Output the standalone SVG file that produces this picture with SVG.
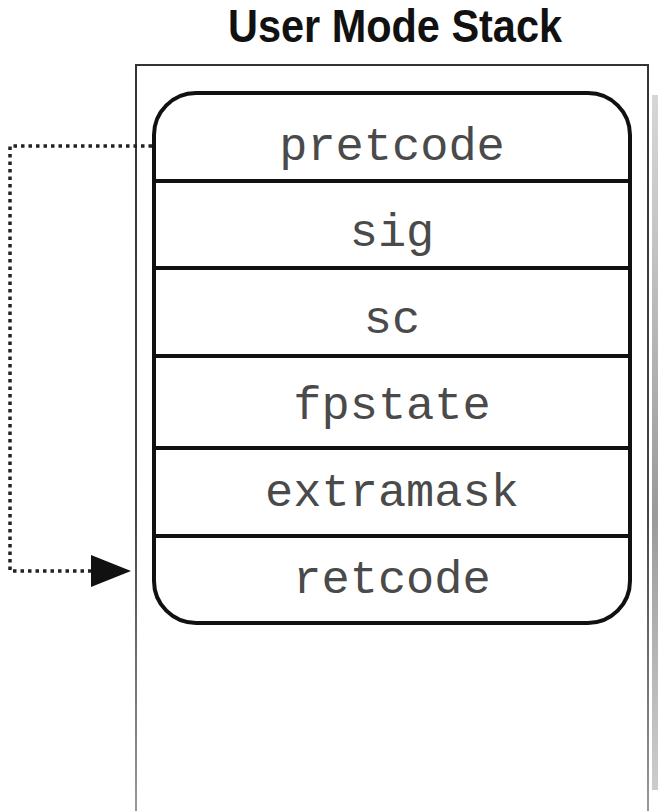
<svg xmlns="http://www.w3.org/2000/svg" width="672" height="811" viewBox="0 0 672 811">
<defs>
<style>
.lbl{font-family:"Liberation Mono","Courier New",monospace;font-size:47px;fill:#4a4a4a;text-anchor:middle}
.div{stroke:#111;stroke-width:4;fill:none}
.dot{stroke:#222;stroke-width:3.5;fill:none;stroke-dasharray:3.5 4}
</style>
<linearGradient id="shadow" x1="0" y1="0" x2="0" y2="1">
<stop offset="0" stop-color="#bbb" stop-opacity="0.6"/>
<stop offset="0.6" stop-color="#999"/>
<stop offset="1" stop-color="#aaa" stop-opacity="0.6"/>
</linearGradient>
<linearGradient id="leftfade" x1="0" y1="0" x2="0" y2="1">
<stop offset="0" stop-color="#333"/>
<stop offset="0.6" stop-color="#444"/>
<stop offset="1" stop-color="#999"/>
</linearGradient>
</defs>
<rect width="672" height="811" fill="#fff"/>
<g id="title">
<text x="395" y="42" font-family="Liberation Sans, Arial, sans-serif" font-weight="bold" font-size="46" fill="#111" text-anchor="middle" textLength="334" lengthAdjust="spacingAndGlyphs">User Mode Stack</text>
</g>
<g id="stack-frame">
<rect x="652" y="95" width="6" height="695" fill="url(#shadow)"/>
<path d="M136 811 V65 H648 V811" fill="none" stroke="url(#leftfade)" stroke-width="2"/>
</g>
<g id="frame">
<rect x="154" y="93" width="476" height="530" rx="42" ry="42" fill="#fff" stroke="#111" stroke-width="4"/>
<line class="div" x1="154" y1="181" x2="630" y2="181"/>
<line class="div" x1="154" y1="268" x2="630" y2="268"/>
<line class="div" x1="154" y1="356" x2="630" y2="356"/>
<line class="div" x1="154" y1="448" x2="630" y2="448"/>
<line class="div" x1="154" y1="536" x2="630" y2="536"/>
</g>
<g id="pretcode"><text class="lbl" x="392" y="160">pretcode</text></g>
<g id="sig"><text class="lbl" x="392" y="246">sig</text></g>
<g id="sc"><text class="lbl" x="392" y="333">sc</text></g>
<g id="fpstate"><text class="lbl" x="392" y="419">fpstate</text></g>
<g id="extramask"><text class="lbl" x="392" y="506">extramask</text></g>
<g id="retcode"><text class="lbl" x="392" y="593">retcode</text></g>
<g id="connectors">
<path class="dot" d="M152 146 H10 V571 H94"/>
<polygon points="91,555 131,571 91,587" fill="#111"/>
</g>
</svg>
